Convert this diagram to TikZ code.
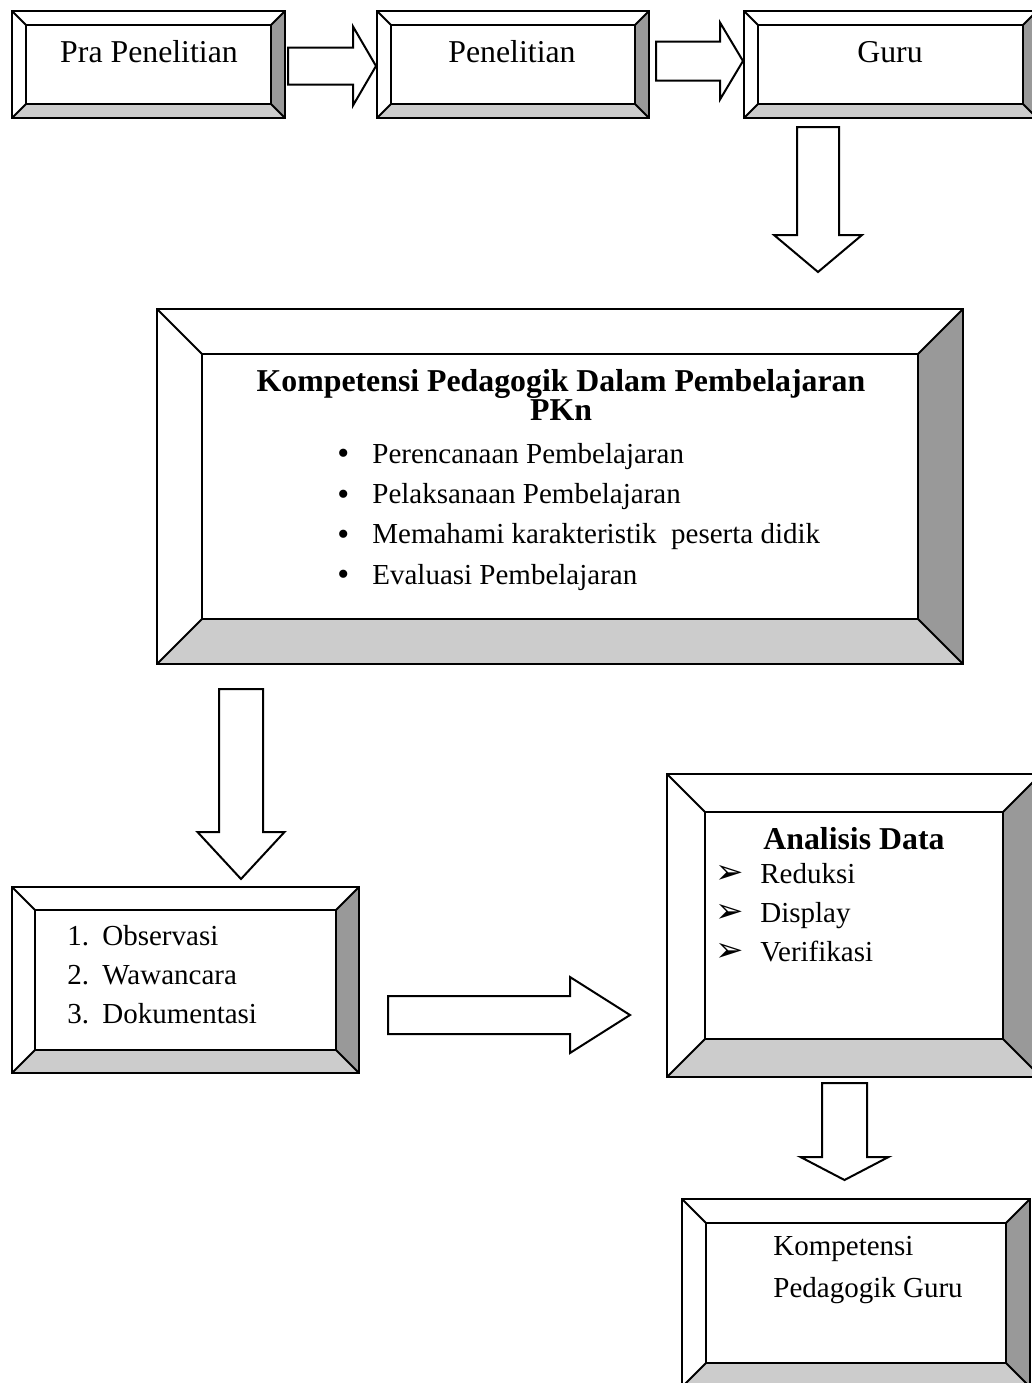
\documentclass[tikz,border=0pt]{standalone}
\usepackage{fontspec}
\setmainfont{Liberation Serif}
\newfontfamily\dejavu{DejaVu Sans}
\usepackage{array}
\definecolor{bevdark}{HTML}{999999}
\definecolor{bevlight}{HTML}{CCCCCC}
\newcommand\fnorm{\fontsize{14.5pt}{19.5pt}\selectfont}
\newcommand\fbig{\fontsize{15.9pt}{19pt}\selectfont}
\newcommand\arrbul{{\dejavu\fontsize{17pt}{17pt}\selectfont ➢}}
\newcommand\dotbul{{\fontsize{17pt}{17pt}\selectfont\raisebox{-0.8pt}{•}}}
\tikzset{
  bevline/.style={draw=black, line width=1pt, line join=miter},
  blockarrow/.style={draw=black, fill=white, line width=1pt, line join=miter},
  txt/.style={inner sep=0pt, anchor=base west, font=\fnorm},
  ctxt/.style={inner sep=0pt, anchor=base, font=\fbig},
}
% #1 name, #2 x1, #3 y1, #4 x2, #5 y2, #6 bevel
\newcommand\bevbox[6]{%
  \fill[bevdark] (#4,#3) -- (#4,#5) -- ({#4-#6},{#5-#6}) -- ({#4-#6},{#3+#6}) -- cycle;
  \fill[bevlight] (#2,#5) -- (#4,#5) -- ({#4-#6},{#5-#6}) -- ({#2+#6},{#5-#6}) -- cycle;
  \draw[bevline] (#2,#3) rectangle (#4,#5);
  \draw[bevline] ({#2+#6},{#3+#6}) rectangle ({#4-#6},{#5-#6});
  \draw[bevline] (#2,#3) -- ({#2+#6},{#3+#6});
  \draw[bevline] (#4,#3) -- ({#4-#6},{#3+#6});
  \draw[bevline] (#2,#5) -- ({#2+#6},{#5-#6});
  \draw[bevline] (#4,#5) -- ({#4-#6},{#5-#6});
  \coordinate (#1) at ({(#2+#4)/2},{(#3+#5)/2});
}
% right block arrow: #1 x start, #2 head base x, #3 tip x, #4 y centre, #5 shaft half, #6 head half
\newcommand\rblock[6]{%
  \draw[blockarrow] (#1,{#4-#5}) -- (#2,{#4-#5}) -- (#2,{#4-#6}) -- (#3,#4)
    -- (#2,{#4+#6}) -- (#2,{#4+#5}) -- (#1,{#4+#5}) -- cycle;
}
% down block arrow: #1 x centre, #2 y start, #3 head base y, #4 tip y, #5 shaft half, #6 head half
\newcommand\dblock[6]{%
  \draw[blockarrow] ({#1-#5},#2) -- ({#1+#5},#2) -- ({#1+#5},#3) -- ({#1+#6},#3) -- (#1,#4)
    -- ({#1-#6},#3) -- ({#1-#5},#3) -- cycle;
}
\begin{document}
\begin{tikzpicture}[x=0.5pt,y=-0.5pt]
\useasboundingbox (0,0) rectangle (1032,1383);
\clip (0,0) rectangle (1032,1383);
\fill[white] (0,0) rectangle (1032,1383);

% top row
\bevbox{pra}{12}{11}{285}{118}{14}
\bevbox{pen}{377}{11}{649}{118}{14}
\bevbox{guru}{744}{11}{1037}{118}{14}
\node[ctxt] (tpra) at (149,62) {Pra Penelitian};
\node[ctxt] (tpen) at (512,62) {Penelitian};
\node[ctxt] (tguru) at (890,62) {Guru};
\rblock{288}{353}{376}{66}{18.5}{39.5}
\rblock{656}{720}{743}{61}{19.5}{38.5}
\dblock{818}{127}{235}{272}{21}{44}

% big box
\bevbox{komp}{157}{309}{963}{664}{45}
\node[ctxt, font=\fbig\bfseries] (tk1) at (561,391) {Kompetensi Pedagogik Dalam Pembelajaran};
\node[ctxt, font=\fbig\bfseries] (tk2) at (561,420) {PKn};
\node[txt, font=\fontsize{14.5pt}{20.2pt}\selectfont] (tk3) at (337,463) {\begin{tabular}[t]{@{}p{17.5pt}@{}l@{}}
\dotbul&Perencanaan Pembelajaran\\
\dotbul&Pelaksanaan Pembelajaran\\
\dotbul&Memahami karakteristik~ peserta didik\\
\dotbul&Evaluasi Pembelajaran
\end{tabular}};
\dblock{241}{689}{832}{879}{22}{43.5}

% methods box
\bevbox{meth}{12}{887}{359}{1073}{23}
\node[txt] (tm) at (67,945) {\begin{tabular}[t]{@{}p{17.5pt}@{}l@{}}
1.&Observasi\\
2.&Wawancara\\
3.&Dokumentasi
\end{tabular}};
\rblock{388}{570}{630}{1015}{19}{38}

% analysis box
\bevbox{ana}{667}{774}{1041}{1077}{38}
\node[txt, font=\fbig\bfseries] (ta1) at (763,849) {Analisis Data};
\node[txt] (ta2) at (715,883) {\begin{tabular}[t]{@{}p{22.5pt}@{}l@{}}
\arrbul&Reduksi\\
\arrbul&Display\\
\arrbul&Verifikasi
\end{tabular}};
\dblock{844.5}{1083}{1157}{1180}{22.5}{44}

% result box
\bevbox{hasil}{682}{1199}{1030}{1387}{24}
\node[txt, font=\fontsize{14.5pt}{21pt}\selectfont] (th) at (773,1255) {\begin{tabular}[t]{@{}l@{}}
Kompetensi\\
Pedagogik Guru
\end{tabular}};
\end{tikzpicture}
\end{document}
